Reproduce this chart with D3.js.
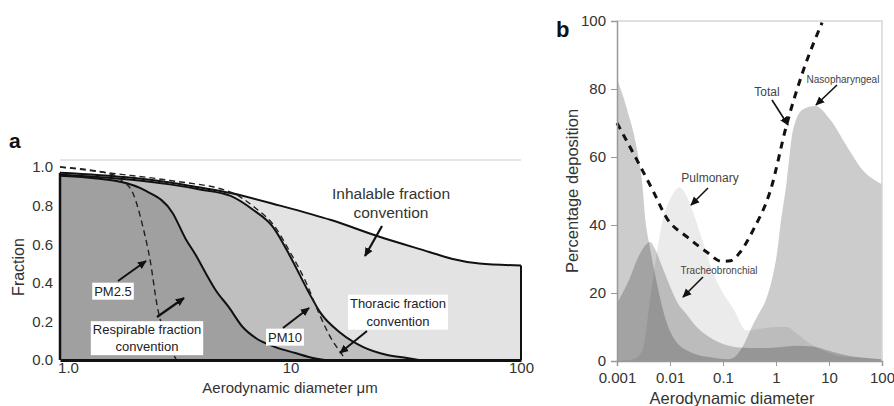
<!DOCTYPE html>
<html>
<head>
<meta charset="utf-8">
<script src="https://cdn.jsdelivr.net/npm/d3@7"></script>
<style>
  body { margin: 0; background: #fff; }
  svg { font-family: "Liberation Sans", Arial, sans-serif; }
</style>
</head>
<body>
<svg id="chart" width="894" height="406"></svg>
<script>
// ---- panel a : sampling conventions (diameter in um, fraction) ----
var inhalD = [1, 2, 3, 4, 5.5, 9, 15, 24.5, 40, 50, 66, 100];
var inhalF = [0.97, 0.945, 0.92, 0.895, 0.865, 0.80, 0.725, 0.637, 0.56, 0.525, 0.50, 0.49];

var thorD = [1, 2, 3, 4, 5.5, 6.9, 8.4, 10, 11.85, 13.5, 16.5, 20.7, 26.3, 32, 36];
var thorF = [0.96, 0.935, 0.91, 0.885, 0.85, 0.777, 0.689, 0.534, 0.363, 0.244, 0.14, 0.067, 0.026, 0.01, 0];

var respD = [1, 1.8, 2.36, 3.08, 3.5, 3.88, 4.29, 4.73, 5.39, 6.2, 7.06, 8.6, 10.5, 12, 14.1];
var respF = [0.955, 0.925, 0.876, 0.762, 0.63, 0.544, 0.45, 0.363, 0.275, 0.171, 0.114, 0.067, 0.036, 0.016, 0];

var pm25D = [1, 1.7, 1.85, 2.07, 2.3, 2.45, 2.65, 2.9, 3.2];
var pm25F = [1.0, 0.96, 0.93, 0.865, 0.68, 0.53, 0.27, 0.11, 0];

var pm10D = [1, 1.7, 3, 5.5, 7, 8.5, 10, 11.7, 13.2, 15.2, 16.7, 17.3];
var pm10F = [1.0, 0.967, 0.93, 0.87, 0.79, 0.695, 0.555, 0.40, 0.25, 0.10, 0.03, 0];

var aTicksX = [1, 10, 100];
var aTickLabelsX = ["1.0", "10", "100"];
var aTicksY = [0, 0.2, 0.4, 0.6, 0.8, 1.0];

// ---- panel b : regional deposition (diameter, percent) ----
var nasoD = [0.001, 0.00155, 0.0024, 0.003, 0.0034, 0.004, 0.005, 0.0062, 0.008, 0.0126, 0.025, 0.063, 0.126, 0.16, 0.25, 0.35, 0.44, 0.68, 0.87, 1.05, 1.19, 1.6, 2.1, 3.2, 5.5, 10.5, 22, 44, 100];
var nasoV = [83, 74, 62, 52, 42, 35, 27, 20, 13, 6, 2.5, 1, 0.5, 1, 5, 10, 13, 19, 25, 32, 39, 53, 68, 74, 75, 71, 63, 56, 52];

var pulmD = [0.001, 0.002, 0.003, 0.0042, 0.0058, 0.0074, 0.01, 0.015, 0.02, 0.027, 0.042, 0.065, 0.1, 0.155, 0.28, 0.5, 1, 1.6, 2.5, 4, 8, 16, 40, 100];
var pulmV = [0, 0.5, 3, 18, 33, 42, 47.5, 51, 49, 44, 35, 26, 20, 15.5, 9, 9.5, 10, 10, 8, 5.5, 3, 1.5, 1, 0.5];

var tbD = [0.001, 0.0017, 0.0026, 0.0042, 0.0052, 0.007, 0.01, 0.014, 0.02, 0.032, 0.063, 0.1, 0.2, 0.5, 1, 2.5, 5, 10, 20, 40, 100];
var tbV = [17, 24, 31, 35, 33, 28, 22, 17, 14, 10, 6.5, 5, 4, 3.8, 4, 4.5, 4.3, 3, 1.8, 1, 0.5];

var totalD = [0.001, 0.0024, 0.0048, 0.0087, 0.021, 0.05, 0.095, 0.14, 0.21, 0.37, 0.78, 1.62, 3.2, 7.4];
var totalV = [70, 59, 50, 42, 36.5, 32, 29.3, 29.5, 32, 38.5, 50, 70, 85, 99.5];

var bTicksX = [0.001, 0.01, 0.1, 1, 10, 100];
var bTickLabelsX = ["0.001", "0.01", "0.1", "1", "10", "100"];
var bTicksY = [0, 20, 40, 60, 80, 100];

function zip(xs, ys) {
  return xs.map(function(x, i) { return { x: x, y: ys[i] }; });
}

var svg = d3.select('#chart');

var defs = svg.append('defs');
defs.append('marker')
    .attr('id', 'arrow')
    .attr('viewBox', '0 -5 10 10')
    .attr('refX', 9)
    .attr('refY', 0)
    .attr('markerWidth', 9)
    .attr('markerHeight', 9)
    .attr('markerUnits', 'userSpaceOnUse')
    .attr('orient', 'auto')
    .append('path')
    .attr('d', 'M0,-4.5L10,0L0,4.5Z')
    .attr('fill', '#111');

function arrow(g, x1, y1, x2, y2, w) {
  g.append('line')
    .attr('x1', x1).attr('y1', y1)
    .attr('x2', x2).attr('y2', y2)
    .attr('stroke', '#111')
    .attr('stroke-width', w || 2)
    .attr('marker-end', 'url(#arrow)');
}

// ================= panel a =================
var xA = d3.scaleLog().domain([1, 100]).range([60, 521]);
var yA = d3.scaleLinear().domain([0, 1]).range([360, 167]);

var gA = svg.append('g');

gA.append('line')
  .attr('x1', 60).attr('x2', 521)
  .attr('y1', 160).attr('y2', 160)
  .attr('stroke', '#dcdcdc')
  .attr('stroke-width', 1.5);

var areaA = d3.area()
  .x(function(d) { return xA(d.x); })
  .y0(yA(0))
  .y1(function(d) { return yA(d.y); })
  .curve(d3.curveMonotoneX);

var lineA = d3.line()
  .x(function(d) { return xA(d.x); })
  .y(function(d) { return yA(d.y); })
  .curve(d3.curveMonotoneX);

gA.append('path').datum(zip(inhalD, inhalF)).attr('d', areaA).attr('fill', '#e3e3e3');
gA.append('path').datum(zip(thorD, thorF)).attr('d', areaA).attr('fill', '#bfbfbf');
gA.append('path').datum(zip(respD, respF)).attr('d', areaA).attr('fill', '#a0a0a0');

[[inhalD, inhalF], [thorD, thorF], [respD, respF]].forEach(function(s) {
  gA.append('path')
    .datum(zip(s[0], s[1]))
    .attr('d', lineA)
    .attr('fill', 'none')
    .attr('stroke', '#111')
    .attr('stroke-width', 2);
});

[[pm25D, pm25F], [pm10D, pm10F]].forEach(function(s) {
  gA.append('path')
    .datum(zip(s[0], s[1]))
    .attr('d', lineA)
    .attr('fill', 'none')
    .attr('stroke', '#222')
    .attr('stroke-width', 1.4)
    .attr('stroke-dasharray', '6,4');
});

// frame edges of the filled region
gA.append('line')
  .attr('x1', xA(1)).attr('x2', xA(1))
  .attr('y1', yA(inhalF[0])).attr('y2', yA(0))
  .attr('stroke', '#111').attr('stroke-width', 2.5);
gA.append('line')
  .attr('x1', xA(100)).attr('x2', xA(100))
  .attr('y1', yA(inhalF[inhalF.length - 1])).attr('y2', yA(0))
  .attr('stroke', '#111').attr('stroke-width', 2);

// axes
gA.append('g')
  .attr('transform', 'translate(0,' + yA(0) + ')')
  .call(d3.axisBottom(xA).tickValues(aTicksX).tickSize(0).tickPadding(2)
    .tickFormat(function(d, i) { return aTickLabelsX[i]; }))
  .call(function(g) { g.select('.domain').attr('stroke', '#111').attr('stroke-width', 3); })
  .call(function(g) {
    g.selectAll('.tick text')
      .attr('font-size', '15px')
      .attr('fill', '#333')
      .attr('font-family', '"Liberation Sans", Arial, sans-serif');
  })
  .call(function(g) { g.select('.tick text').attr('dx', '8'); });

gA.append('g')
  .attr('transform', 'translate(' + 58 + ',0)')
  .call(d3.axisLeft(yA).tickValues(aTicksY).tickSize(0).tickPadding(5)
    .tickFormat(d3.format('.1f')))
  .call(function(g) { g.select('.domain').remove(); })
  .call(function(g) {
    g.selectAll('.tick text')
      .attr('font-size', '15px')
      .attr('fill', '#333')
      .attr('font-family', '"Liberation Sans", Arial, sans-serif');
  });

gA.append('text')
  .attr('x', 290).attr('y', 393)
  .attr('text-anchor', 'middle')
  .attr('font-size', '15px')
  .attr('fill', '#333')
  .text('Aerodynamic diameter \u03bcm');

gA.append('text')
  .attr('transform', 'translate(24,267) rotate(-90)')
  .attr('text-anchor', 'middle')
  .attr('font-size', '16px')
  .attr('fill', '#333')
  .text('Fraction');

gA.append('text')
  .attr('x', 9).attr('y', 148)
  .attr('font-size', '21px')
  .attr('font-weight', 'bold')
  .attr('fill', '#111')
  .text('a');

// annotations
function boxedLabel(g, lines, cx, cy, fs, lh) {
  var grp = g.append('g');
  var t = grp.append('text')
    .attr('text-anchor', 'middle')
    .attr('font-size', fs + 'px')
    .attr('fill', '#222');
  lines.forEach(function(s, i) {
    t.append('tspan')
      .attr('x', cx)
      .attr('y', cy + (i - (lines.length - 1) / 2) * lh + fs * 0.36)
      .text(s);
  });
  var bb = t.node().getBBox();
  grp.insert('rect', 'text')
    .attr('x', bb.x - 2).attr('y', bb.y - 1)
    .attr('width', bb.width + 4).attr('height', bb.height + 2)
    .attr('fill', '#fff');
}

gA.append('text')
  .attr('text-anchor', 'middle')
  .attr('font-size', '15.5px')
  .attr('fill', '#333')
  .selectAll('tspan')
  .data(['Inhalable fraction', 'convention'])
  .enter().append('tspan')
  .attr('x', 391)
  .attr('y', function(d, i) { return 199 + i * 19; })
  .text(function(d) { return d; });
arrow(gA, 382, 226, 365, 256, 2.2);

boxedLabel(gA, ['PM2.5'], 113, 291, 13, 16);
arrow(gA, 118, 281, 146, 261);

boxedLabel(gA, ['Respirable fraction', 'convention'], 147, 338, 13, 17);
arrow(gA, 157, 317, 184, 298, 2.2);

boxedLabel(gA, ['PM10'], 285, 337, 13, 16);
arrow(gA, 283, 328, 309, 308);

boxedLabel(gA, ['Thoracic fraction', 'convention'], 398, 312, 13, 18);
arrow(gA, 367, 331, 340, 353);

// ================= panel b =================
var xB = d3.scaleLog().domain([0.001, 100]).range([617, 882]);
var yB = d3.scaleLinear().domain([0, 100]).range([361, 21]);

var gB = svg.append('g');

var areaB = d3.area()
  .x(function(d) { return xB(d.x); })
  .y0(yB(0))
  .y1(function(d) { return yB(d.y); })
  .curve(d3.curveMonotoneX);

var lineB = d3.line()
  .x(function(d) { return xB(d.x); })
  .y(function(d) { return yB(d.y); })
  .curve(d3.curveMonotoneX);

gB.append('path').datum(zip(nasoD, nasoV)).attr('d', areaB).attr('fill', '#000').attr('fill-opacity', 0.2);
gB.append('path').datum(zip(pulmD, pulmV)).attr('d', areaB).attr('fill', '#000').attr('fill-opacity', 0.08);
gB.append('path').datum(zip(tbD, tbV)).attr('d', areaB).attr('fill', '#000').attr('fill-opacity', 0.2);

// frame
gB.append('path')
  .attr('d', 'M' + xB(0.001) + ',' + yB(100) + 'H' + xB(100) + 'V' + yB(0))
  .attr('fill', 'none')
  .attr('stroke', '#d6d6d6')
  .attr('stroke-width', 1.5);

gB.append('path')
  .datum(zip(totalD, totalV))
  .attr('d', lineB)
  .attr('fill', 'none')
  .attr('stroke', '#111')
  .attr('stroke-width', 3)
  .attr('stroke-dasharray', '7,6');

gB.append('g')
  .attr('transform', 'translate(0,' + yB(0) + ')')
  .call(d3.axisBottom(xB).tickValues(bTicksX).tickSize(5).tickPadding(6)
    .tickFormat(function(d, i) { return bTickLabelsX[i]; }))
  .call(function(g) { g.select('.domain').attr('stroke', '#999').attr('stroke-width', 1.5); })
  .call(function(g) { g.selectAll('.tick line').attr('stroke', '#999'); })
  .call(function(g) {
    g.selectAll('.tick text')
      .attr('font-size', '15px')
      .attr('fill', '#333')
      .attr('font-family', '"Liberation Sans", Arial, sans-serif');
  });

gB.append('g')
  .attr('transform', 'translate(' + xB(0.001) + ',0)')
  .call(d3.axisLeft(yB).tickValues(bTicksY).tickSize(6).tickPadding(5))
  .call(function(g) { g.select('.domain').attr('stroke', '#999').attr('stroke-width', 1.5); })
  .call(function(g) { g.selectAll('.tick line').attr('stroke', '#999'); })
  .call(function(g) {
    g.selectAll('.tick text')
      .attr('font-size', '15px')
      .attr('fill', '#333')
      .attr('font-family', '"Liberation Sans", Arial, sans-serif');
  });

gB.append('text')
  .attr('x', 732).attr('y', 404)
  .attr('text-anchor', 'middle')
  .attr('font-size', '16.5px')
  .attr('fill', '#333')
  .text('Aerodynamic diameter');

gB.append('text')
  .attr('transform', 'translate(578,191) rotate(-90)')
  .attr('text-anchor', 'middle')
  .attr('font-size', '16.5px')
  .attr('fill', '#333')
  .text('Percentage deposition');

gB.append('text')
  .attr('x', 556).attr('y', 37)
  .attr('font-size', '22px')
  .attr('font-weight', 'bold')
  .attr('fill', '#111')
  .text('b');

function plainLabel(g, s, x, y, fs) {
  g.append('text')
    .attr('x', x).attr('y', y + fs * 0.36)
    .attr('text-anchor', 'middle')
    .attr('font-size', fs + 'px')
    .attr('fill', '#444')
    .text(s);
}

plainLabel(gB, 'Total', 767, 92, 12);
arrow(gB, 772, 100, 788, 125, 1.6);
plainLabel(gB, 'Nasopharyngeal', 843, 79, 10);
arrow(gB, 837, 85, 816, 105, 1.6);
plainLabel(gB, 'Pulmonary', 710, 178, 12);
arrow(gB, 708, 188, 691, 205, 1.6);
plainLabel(gB, 'Tracheobronchial', 719, 270, 10);
arrow(gB, 703, 277, 683, 297, 1.6);
</script>
</body>
</html>
